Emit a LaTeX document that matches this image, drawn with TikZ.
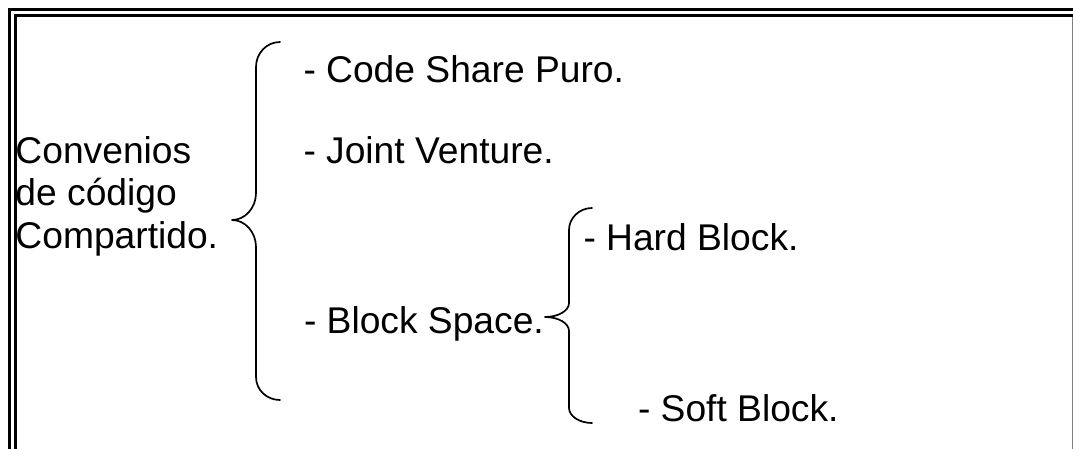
\documentclass[tikz,border=0pt]{standalone}
\usepackage{fontspec}
\setmainfont{Liberation Sans}
\begin{document}
\begin{tikzpicture}[x=1pt,y=-1pt,
  lbl/.style={inner sep=0pt, outer sep=0pt, anchor=base west, align=left,
              font={\fontsize{37.2}{42.2}\selectfont}},
  brace/.style={line width=1.7pt, line join=round, line cap=round},
  frameline/.style={line width=2.8pt}]
\useasboundingbox (0,0) rectangle (1073,448);
% frame (double rule, cut at right and bottom)
\draw[frameline] (1075,9.7) -- (9.7,9.7) -- (9.7,450);
\draw[frameline] (1075,15.3) -- (15.3,15.3) -- (15.3,450);
\draw[line width=1pt, gray] (1072,16.5) -- (1072,450);
% texts (base anchor of the three-line node is its last line)
\node[lbl] (conv) at (15.5,248) {Convenios\\de código\\Compartido.};
\node[lbl] (csp) at (303.5,82) {- Code Share Puro.};
\node[lbl] (jv) at (303.5,163) {- Joint Venture.};
\node[lbl] (bs) at (304,333) {- Block Space.};
\node[lbl] (hb) at (583.5,250) {- Hard Block.};
\node[lbl] (sb) at (638,421) {- Soft Block.};
% big brace
\draw[brace] (280,42) .. controls (266.8,42) and (256,53) .. (256,67)
  -- (256,193) .. controls (256,208) and (245,220) .. (232,220)
  .. controls (245,220) and (256,232) .. (256,247)
  -- (256,377) .. controls (256,390) and (266.8,400) .. (280,400);
% small brace
\draw[brace] (592,208) .. controls (579.3,208) and (569,218) .. (569,230)
  -- (569,303) .. controls (569,311) and (558,317) .. (545,317)
  .. controls (558,317) and (569,323) .. (569,331)
  -- (569,408) .. controls (569,416) and (579.3,423) .. (592,423);
\end{tikzpicture}
\end{document}
